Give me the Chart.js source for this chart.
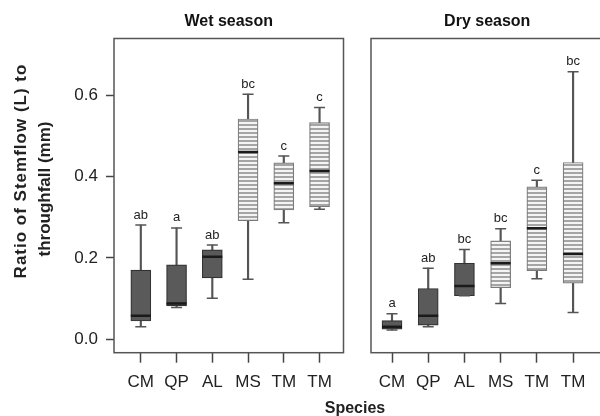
<!DOCTYPE html>
<html>
<head>
<meta charset="utf-8">
<script src="https://cdn.jsdelivr.net/npm/chart.js@4/dist/chart.umd.min.js"></script>
<style>
  html, body { margin: 0; padding: 0; background: #fff; }
  body { width: 600px; height: 416px; overflow: hidden; position: relative; font-family: "Liberation Sans", Arial, sans-serif; }
  .panel { position: absolute; top: 0; height: 416px; }
  #wetWrap { left: 0; width: 356px; }
  #dryWrap { left: 356px; width: 260px; }
  .ytitle { position: absolute; font-weight: bold; font-size: 17px; color: #222; white-space: nowrap;
            transform: translate(-50%, -50%) rotate(-90deg); }
  #species { position: absolute; left: 355px; top: 408px; transform: translate(-50%, -50%);
             font-weight: bold; font-size: 16px; color: #222; }
</style>
</head>
<body>
<div id="wetWrap" class="panel"><canvas id="wet" width="356" height="416"></canvas></div>
<div id="dryWrap" class="panel"><canvas id="dry" width="260" height="416"></canvas></div>
<div class="ytitle" style="left:21px; top:171px; letter-spacing:1px;">Ratio of Stemflow (L) to</div>
<div class="ytitle" style="left:45px; top:189px;">throughfall (mm)</div>
<div id="species">Species</div>
<script>
'use strict';

// species on the x axis
var categories = ['CM', 'QP', 'AL', 'MS', 'TM', 'TM'];
var yTicks = [0.0, 0.2, 0.4, 0.6];

// wet season: whisker low, Q1, median, Q3, whisker high, letters
var wetLow = [0.031, 0.078, 0.101, 0.148, 0.287, 0.320];
var wetQ1 = [0.045, 0.082, 0.151, 0.292, 0.318, 0.326];
var wetMed = [0.058, 0.088, 0.203, 0.461, 0.384, 0.414];
var wetQ3 = [0.170, 0.183, 0.220, 0.542, 0.434, 0.533];
var wetHigh = [0.281, 0.274, 0.232, 0.603, 0.451, 0.570];
var wetLetters = ['ab', 'a', 'ab', 'bc', 'c', 'c'];

// dry season
var dryLow = [0.023, 0.031, 0.107, 0.088, 0.149, 0.066];
var dryQ1 = [0.025, 0.035, 0.107, 0.127, 0.169, 0.138];
var dryMed = [0.031, 0.058, 0.131, 0.187, 0.273, 0.210];
var dryQ3 = [0.046, 0.125, 0.187, 0.242, 0.375, 0.435];
var dryHigh = [0.063, 0.175, 0.221, 0.272, 0.391, 0.658];
var dryLetters = ['a', 'ab', 'bc', 'bc', 'c', 'bc'];

Chart.defaults.font.family = '"Liberation Sans", Arial, sans-serif';
Chart.defaults.color = '#222';

var stripes = (function () {
    var c = document.createElement('canvas');
    c.width = 4; c.height = 4;
    var g = c.getContext('2d');
    g.fillStyle = '#f4f4f4';
    g.fillRect(0, 0, 4, 4);
    g.fillStyle = '#a5a5a5';
    g.fillRect(0, 0, 4, 2);
    return g.createPattern(c, 'repeat');
})();

var framePlugin = {
    id: 'frame',
    afterDraw: function (chart) {
        var a = chart.chartArea, ctx = chart.ctx;
        ctx.save();
        ctx.strokeStyle = '#555';
        ctx.lineWidth = 1.5;
        ctx.strokeRect(a.left, a.top, a.right - a.left, a.bottom - a.top);
        ctx.restore();
    }
};

var lettersPlugin = {
    id: 'letters',
    afterDatasetsDraw: function (chart, args, opts) {
        var ctx = chart.ctx, xs = chart.scales.x, ys = chart.scales.y;
        ctx.save();
        ctx.font = '13px "Liberation Sans", Arial, sans-serif';
        ctx.fillStyle = '#222';
        ctx.textAlign = 'center';
        ctx.textBaseline = 'middle';
        for (var i = 0; i < opts.letters.length; i++) {
            ctx.fillText(opts.letters[i], xs.getPixelForValue(i + 1), ys.getPixelForValue(opts.tops[i]) - 10);
        }
        ctx.restore();
    }
};

function buildChart(id, title, low, q1, med, q3, high, letters, xMin, xMax, showY) {
    var whiskers = [], boxes = [], medians = [], caps = [];
    for (var i = 0; i < categories.length; i++) {
        whiskers.push({x: i + 1, y: [low[i], high[i]]});
        boxes.push({x: i + 1, y: [q1[i], q3[i]]});
        medians.push({x: i + 1, y: med[i]});
        caps.push({x: i + 1, y: low[i]});
        caps.push({x: i + 1, y: high[i]});
    }
    var boxFill = categories.map(function (c, i) { return i < 3 ? '#5a5a5a' : stripes; });
    var boxLine = categories.map(function (c, i) { return i < 3 ? '#333' : '#7a7a7a'; });

    return new Chart(document.getElementById(id).getContext('2d'), {
        type: 'bar',
        data: {
            datasets: [
                {type: 'scatter', data: caps, pointStyle: 'line', pointRadius: 5.5, borderColor: '#555', borderWidth: 1.5, order: 1},
                {type: 'scatter', data: medians, pointStyle: 'line', pointRadius: 10, borderColor: '#1a1a1a', borderWidth: 2.5, order: 2},
                {data: boxes, backgroundColor: boxFill, borderColor: boxLine, borderWidth: 1.2, barThickness: 20, grouped: false, borderSkipped: false, order: 3},
                {data: whiskers, backgroundColor: '#555', borderWidth: 0, barThickness: 1.5, grouped: false, order: 4}
            ]
        },
        options: {
            responsive: false,
            animation: false,
            layout: {padding: {left: showY ? 0 : 15, right: showY ? 5.3 : 8.3, top: 0, bottom: 0}},
            plugins: {
                legend: {display: false},
                tooltip: {enabled: false},
                title: {display: true, text: title, fullSize: false, color: '#111',
                        font: {size: 16, weight: 'bold'}, padding: {top: 12, bottom: 7.3}},
                letters: {letters: letters, tops: high}
            },
            scales: {
                x: {
                    type: 'linear', min: xMin, max: xMax, offset: false,
                    afterFit: function (s) { s.height = 63.3; },
                    afterBuildTicks: function (s) { s.ticks = categories.map(function (c, i) { return {value: i + 1}; }); },
                    ticks: {padding: 9, font: {size: 17}, color: '#222', autoSkip: false, maxRotation: 0,
                            callback: function (v) { return categories[v - 1]; }},
                    grid: {drawOnChartArea: false, drawTicks: true, tickLength: 10, tickColor: '#444', tickWidth: 1.5, offset: false},
                    border: {display: false}
                },
                y: {
                    display: showY, min: -0.033, max: 0.74,
                    afterFit: function (s) { s.width = showY ? 114 : 0; },
                    afterBuildTicks: function (s) { s.ticks = yTicks.map(function (v) { return {value: v}; }); },
                    ticks: {padding: 8, font: {size: 17}, color: '#222',
                            callback: function (v) { return v.toFixed(1); }},
                    grid: {drawOnChartArea: false, drawTicks: true, tickLength: 8, tickColor: '#444', tickWidth: 1.5},
                    border: {display: false}
                }
            }
        },
        plugins: [framePlugin, lettersPlugin]
    });
}

buildChart('wet', 'Wet season', wetLow, wetQ1, wetMed, wetQ3, wetHigh, wetLetters, 0.25, 6.67, true);
buildChart('dry', 'Dry season', dryLow, dryQ1, dryMed, dryQ3, dryHigh, dryLetters, 0.42, 6.84, false);
</script>
</body>
</html>
